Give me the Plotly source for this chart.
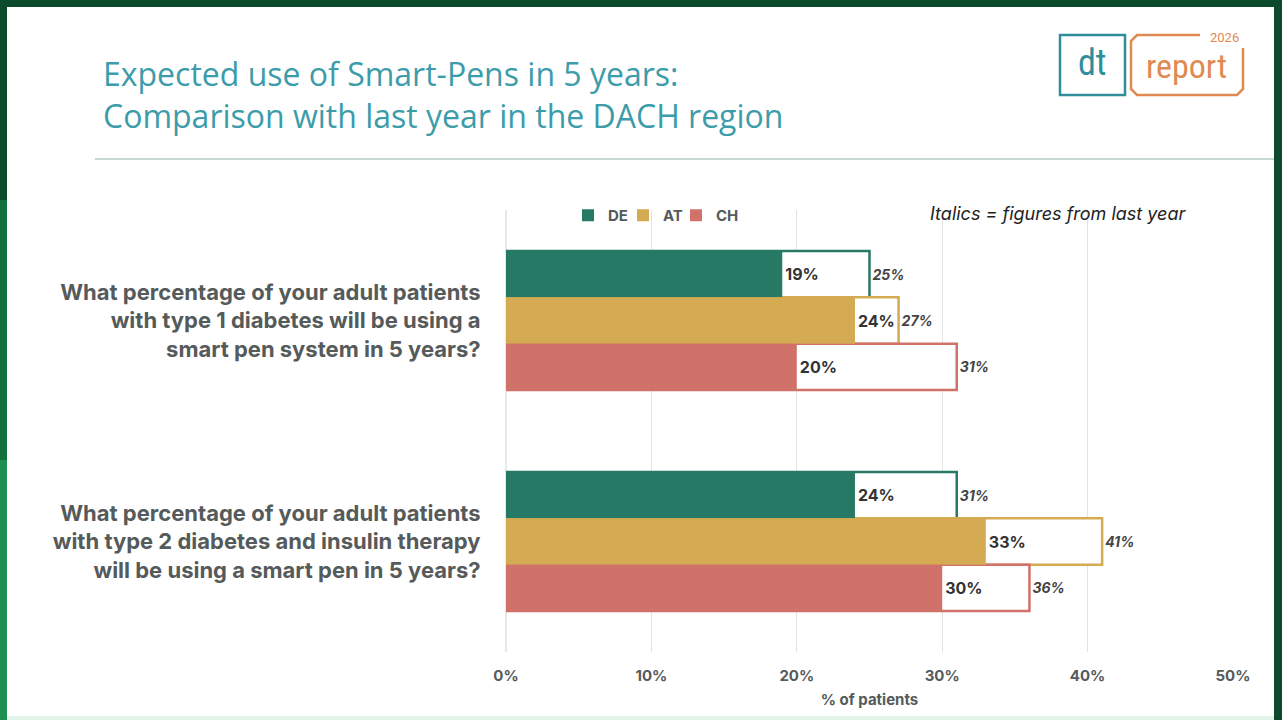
import plotly.graph_objects as go

# Chart data
questions = [
    "What percentage of your adult patients<br>with type 1 diabetes will be using a<br>smart pen system in 5 years?",
    "What percentage of your adult patients<br>with type 2 diabetes and insulin therapy<br>will be using a smart pen in 5 years?",
]
countries = ["DE", "AT", "CH"]
this_year = {"DE": [19, 24], "AT": [24, 33], "CH": [20, 30]}
last_year = {"DE": [25, 31], "AT": [27, 41], "CH": [31, 36]}
x_ticks = [0, 10, 20, 30, 40, 50]
x_tick_labels = ["0%", "10%", "20%", "30%", "40%", "50%"]

colors = {"DE": "#267964", "AT": "#d4aa52", "CH": "#d0716a"}
legend_ids = {"DE": "legend", "AT": "legend2", "CH": "legend3"}
label_font = "Inter, Lato, Roboto, sans-serif"
grey = "#555a5a"

fig = go.Figure()

# last year: white bars with coloured outline, drawn first (behind)
for c in countries:
    fig.add_trace(go.Bar(
        y=questions, x=last_year[c], orientation="h",
        offsetgroup=c, name=c + " last year", showlegend=False,
        marker=dict(color="white", line=dict(color=colors[c], width=2.5)),
        text=[f"<i>{v}%</i>" for v in last_year[c]],
        textposition="outside", cliponaxis=False,
        textfont=dict(family=label_font, size=14, color="#444444", weight="bold"),
    ))

# this year: solid bars on top
for c in countries:
    fig.add_trace(go.Bar(
        y=questions, x=this_year[c], orientation="h",
        offsetgroup=c, name=c, legend=legend_ids[c],
        marker=dict(color=colors[c], line=dict(width=0)),
        text=[f"{v}%" for v in this_year[c]],
        textposition="outside", cliponaxis=False,
        textfont=dict(family=label_font, size=16, color="#333333", weight="bold"),
    ))

W, H = 1282, 720
L, R, T, B = 506, 49, 210, 68
pw, ph = W - L - R, H - T - B


def px(x):
    return (x - L) / pw


def py(y):
    return (H - B - y) / ph


def legend_at(x):
    return dict(orientation="h", x=px(x), y=py(199), xanchor="left", yanchor="top",
                font=dict(size=15, color=grey, weight="bold"),
                bgcolor="rgba(0,0,0,0)", itemwidth=30)


fig.update_layout(
    width=W, height=H,
    margin=dict(l=L, r=R, t=T, b=B),
    paper_bgcolor="#0b4a2a", plot_bgcolor="white",
    barmode="group", bargap=0.37, bargroupgap=0,
    font=dict(family=label_font, color=grey),
    showlegend=True,
    legend=legend_at(568), legend2=legend_at(623), legend3=legend_at(676),
    xaxis=dict(range=[0, 50], tickvals=x_ticks, ticktext=x_tick_labels,
               showgrid=True, gridcolor="#e3e3e3", gridwidth=1,
               zeroline=True, zerolinecolor="#e8e8e8", showline=False,
               ticks="outside", ticklen=10, tickcolor="rgba(0,0,0,0)",
               tickfont=dict(size=15, color=grey, weight="bold"),
               title=dict(text="% of patients", standoff=10,
                          font=dict(size=15, color=grey, weight="bold"))),
    yaxis=dict(autorange="reversed", showgrid=False, showline=False,
               ticks="outside", ticklen=20, tickcolor="rgba(0,0,0,0)",
               tickfont=dict(size=22, color=grey, weight="bold")),
)

# white slide card, green frame, rule under the title, logo boxes
card = [
    dict(type="rect", xref="paper", yref="paper", x0=px(7), x1=px(1274), y0=py(716), y1=py(7),
         fillcolor="white", line_width=0, layer="below"),
    dict(type="rect", xref="paper", yref="paper", x0=px(0), x1=px(7), y0=py(720), y1=py(460),
         fillcolor="#1d8f50", line_width=0, layer="below"),
    dict(type="rect", xref="paper", yref="paper", x0=px(0), x1=px(7), y0=py(460), y1=py(200),
         fillcolor="#157040", line_width=0, layer="below"),
    dict(type="rect", xref="paper", yref="paper", x0=px(7), x1=px(1274), y0=py(720), y1=py(716),
         fillcolor="#e3f5ea", line_width=0, layer="below"),
    dict(type="line", xref="paper", yref="paper", x0=px(95), x1=px(1274), y0=py(159), y1=py(159),
         line=dict(color="#8fb0ae", width=1.2)),
    dict(type="rect", xref="paper", yref="paper", x0=px(1060), x1=px(1125), y0=py(95), y1=py(35),
         line=dict(color="#2f8e9a", width=2.5), fillcolor="rgba(0,0,0,0)"),
    dict(type="path", xref="paper", yref="paper",
         path=(f"M {px(1200)},{py(35)} L {px(1137)},{py(35)} L {px(1131)},{py(41)} "
               f"L {px(1131)},{py(89)} L {px(1137)},{py(95)} L {px(1237)},{py(95)} "
               f"L {px(1243)},{py(89)} L {px(1243)},{py(48)}"),
         line=dict(color="#e08a52", width=2.5)),
]
fig.update_layout(shapes=card)

title_font = "Open Sans, Noto Sans, sans-serif"
annotations = [
    dict(text="Expected use of Smart-Pens in 5 years:<br>Comparison with last year in the DACH region",
         xref="paper", yref="paper", x=px(101), y=py(50), xanchor="left", yanchor="top",
         align="left", showarrow=False,
         font=dict(family=title_font, size=32, color="#3c9caa")),
    dict(text="<i>Italics = figures from last year</i>",
         xref="paper", yref="paper", x=px(1188), y=py(213), xanchor="right", yanchor="middle",
         showarrow=False, font=dict(family=label_font, size=18, color="#222222")),
    dict(text="dt", xref="paper", yref="paper", x=px(1092), y=py(63), xanchor="center",
         yanchor="middle", showarrow=False,
         font=dict(family="Roboto Condensed, Roboto, sans-serif", size=36, color="#2f8e9a")),
    dict(text="report", xref="paper", yref="paper", x=px(1186), y=py(66), xanchor="center",
         yanchor="middle", showarrow=False,
         font=dict(family="Roboto Condensed, Roboto, sans-serif", size=34, color="#e08a52")),
    dict(text="2026", xref="paper", yref="paper", x=px(1224), y=py(37), xanchor="center",
         yanchor="middle", showarrow=False,
         font=dict(family="Roboto, sans-serif", size=13, color="#e08a52")),
]
fig.update_layout(annotations=annotations)

fig.write_html("out.html", config={"displayModeBar": False},
               post_script="document.body.style.margin='0px';")
